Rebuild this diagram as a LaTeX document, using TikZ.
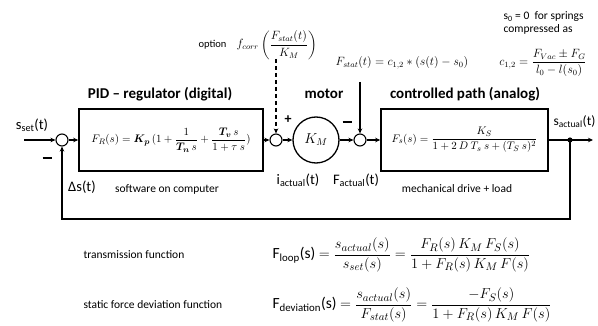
\documentclass[tikz,border=0pt]{standalone}
\usepackage{amsmath}
\usepackage{fontspec}
\setmainfont{Carlito}
\setsansfont{Carlito}
\usetikzlibrary{arrows.meta}
\begin{document}
\begin{tikzpicture}[x=1pt,y=-1pt,
  line width=1.1pt,
  arr/.style={-{Stealth[length=5pt,width=4.5pt]}},
  blk/.style={draw,line width=1.6pt,inner sep=0pt},
  sumc/.style={draw,circle,line width=1.1pt,minimum size=12pt,inner sep=0pt},
  lbl/.style={font=\fontsize{11.5}{13}\selectfont,inner sep=0pt},
  sml/.style={font=\fontsize{10.5}{12.5}\selectfont,inner sep=0pt},
  head/.style={font=\fontsize{15}{17}\selectfont\bfseries,inner sep=0pt},
  eq/.style={font=\fontsize{12}{14}\selectfont,inner sep=0pt},
  big/.style={font=\fontsize{14.5}{17}\selectfont,inner sep=0pt},
  bigeq/.style={font=\fontsize{15.5}{18}\selectfont,inner sep=0pt},
  sgn/.style={font=\fontsize{14}{16}\selectfont\bfseries,inner sep=0pt},
]
\useasboundingbox (0,0) rectangle (598,326);

% blocks
\node[blk,minimum width=184pt,minimum height=62pt] (pid) at (171,140)
  {\fontsize{11.3}{13}\selectfont$F_R(s) = \boldsymbol{K_p}\,(1+\dfrac{1}{\boldsymbol{T_n}\,s}+\dfrac{\boldsymbol{T_v}\,s}{1+\tau\ s})$};
\node[blk,minimum width=167pt,minimum height=62pt] (cp) at (464.5,140)
  {\fontsize{11.3}{13}\selectfont$F_s(s) = \dfrac{K_S}{1+2\,D\ T_s\ s+(T_S\ s)^2}$};
\node[sumc] (s1) at (62,140) {};
\node[sumc] (s2) at (276,140) {};
\node[draw,circle,line width=1.3pt,minimum size=46pt,inner sep=0pt] (mot) at (316,140)
  {\fontsize{14}{16}\selectfont$K_M$};
\node[sumc] (s3) at (360,140) {};

\coordinate (in) at (24,140);
\coordinate (j) at (570,140);
\coordinate (out) at (593,140);
\coordinate (fb1) at (570,219);
\coordinate (fb2) at (62,219);
\coordinate (dtop) at (276,59);
\coordinate (ftop) at (360,82);

% connectors
\draw[arr] (in) -- (s1);
\draw[arr] (s1) -- (pid);
\draw[arr] (pid) -- (s2);
\draw[arr] (s2) -- (mot);
\draw[arr] (mot) -- (s3);
\draw[arr] (s3) -- (cp);
\draw[arr] (cp) -- (out);
\fill (j) circle (2.6pt);
\draw[arr] (j) -- (fb1) -- (fb2) -- (s1);
\draw[arr,dashed,dash pattern=on 4pt off 3pt] (dtop) -- (s2);
\draw[arr] (ftop) -- (s3);

% headings
\node[head] (hpid) at (160,94) {PID – regulator (digital)};
\node[head] (hmot) at (324,94) {motor};
\node[head] (hcp) at (465,94) {controlled path (analog)};

% top texts
\node[sml,anchor=west] (opt) at (198,45) {option};
\node[eq,anchor=west] (fcorr) at (236,45) {$f_{corr}\left(\dfrac{F_{stat}(t)}{K_M}\right)$};
\node[eq] (fstat) at (402,63) {$F_{stat}(t) = c_{1,2} * (s(t)-s_0)$};
\node[eq] (c12) at (543,63) {$c_{1,2} = \dfrac{F_{Vac}\pm F_G}{l_0-l(s_0)}$};
\node[lbl,anchor=west] (s0) at (503,17) {s\textsubscript{0} = 0\ \ for springs};
\node[lbl,anchor=west] (comp) at (503,29) {compressed as};

% signal labels
\node[big] (sset) at (32,125) {s\textsubscript{set}(t)};
\node[inner sep=0pt] (m1) at (47,158) {\rule{9pt}{1.6pt}};
\node[big] (ds) at (82,187) {Δs(t)};
\node[lbl] (sw) at (167,189) {software on computer};
\node[sgn] (p2) at (288,120) {+};
\node[inner sep=0pt] (m3) at (347,122) {\rule{9pt}{1.6pt}};
\node[big] (iact) at (298,180) {i\textsubscript{actual}(t)};
\node[big] (fact) at (356,180) {F\textsubscript{actual}(t)};
\node[lbl] (mech) at (457,189) {mechanical drive + load};
\node[font=\fontsize{13.5}{16}\selectfont,inner sep=0pt,anchor=west] (sact) at (553,122) {s\textsubscript{actual}(t)};

% bottom
\node[lbl,anchor=west] (tf) at (83,255) {transmission function};
\node[lbl,anchor=west] (sf) at (83,305) {static force deviation function};
\node[bigeq,anchor=west] (floop) at (272,255)
  {F\textsubscript{loop}(s) $= \dfrac{s_{actual}(s)}{s_{set}(s)} = \dfrac{F_R(s)\,K_M\,F_S(s)}{1+F_R(s)\,K_M\,F(s)}$};
\node[bigeq,anchor=west] (fdev) at (272,305)
  {F\textsubscript{deviation}(s) $= \dfrac{s_{actual}(s)}{F_{stat}(s)} = \dfrac{-F_S(s)}{1+F_R(s)\,K_M\,F(s)}$};
\end{tikzpicture}
\end{document}
